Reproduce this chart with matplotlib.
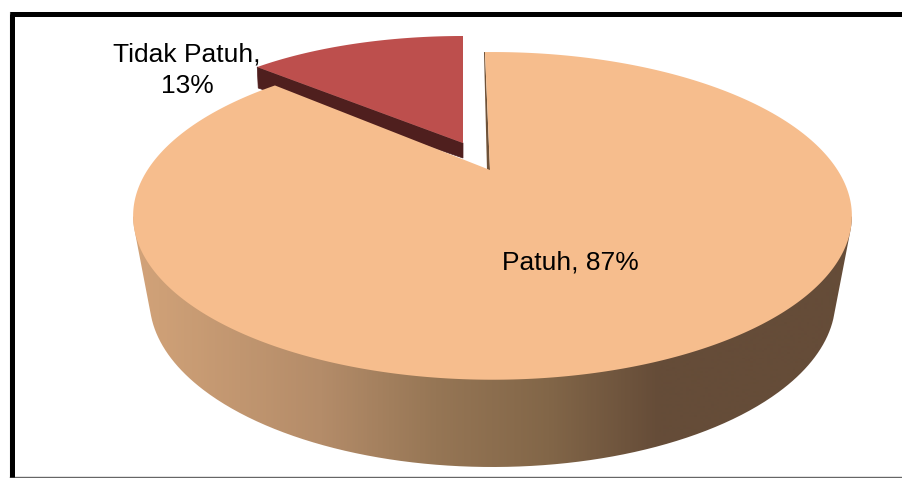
import numpy as np
import matplotlib
matplotlib.use("Agg")
import matplotlib.pyplot as plt
from matplotlib.colors import LinearSegmentedColormap
from matplotlib.patches import PathPatch, Polygon
from matplotlib.path import Path

# ---- data ----
categories = ["Patuh", "Tidak Patuh"]
percent_values = [87, 13]

# ---- style ----
plt.rcParams["font.family"] = ["Liberation Sans", "DejaVu Sans"]
W, H = 902, 478
TOP_PEACH = "#F6BD8D"
TOP_RED = "#BD4F4D"
WALL_RED = "#4F1F1E"
WALL_BROWN = "#6F5238"
SIDE_STOPS = [(0.00, "#D2A379"), (0.26, "#B48C69"), (0.42, "#967655"),
              (0.58, "#826648"), (0.733, "#654C38"), (1.00, "#654C38")]

fig = plt.figure(figsize=(W / 100, H / 100), dpi=100, facecolor="white")
ax = fig.add_axes([0, 0, 1, 1])
ax.set_xlim(0, W)
ax.set_ylim(H, 0)
ax.axis("off")


def project(theta_deg, cx, cy, a, b, k):
    """Perspective view of a unit circle; theta runs clockwise from 12 o'clock."""
    t = np.radians(theta_deg)
    w = 1 + k * np.cos(t)
    return np.column_stack([cx + b * np.sin(t) / w, cy - a * np.cos(t) / w])


def hull(points):
    pts = sorted(map(tuple, points))
    def half(seq):
        out = []
        for p in seq:
            while len(out) > 1 and ((out[-1][0] - out[-2][0]) * (p[1] - out[-2][1])
                                    - (out[-1][1] - out[-2][1]) * (p[0] - out[-2][0])) <= 0:
                out.pop()
            out.append(p)
        return out[:-1]
    return np.array(half(pts) + half(pts[::-1]))


MAIN = dict(cx=492.5, cy=170, a=151, b=345, k=0.28)
RED = dict(cx=463, cy=143, a=120.7, b=307, k=0.128)
main_sweep = percent_values[0] * 3.6
red_sweep = percent_values[1] * 3.6
START = -1.6

# side wall of the big slice: gradient clipped to the outline of the two discs
all_theta = np.linspace(0, 360, 721)
top_rim = project(all_theta, **MAIN)
t = np.radians(all_theta)
bottom_rim = np.column_stack([492.5 + 343 * np.cos(t), 300 + 167 * np.sin(t)])
outline = hull(np.vstack([top_rim, bottom_rim]))
outline = outline[outline[:, 1] >= 216]
side_clip = PathPatch(Path(np.vstack([outline, outline[:1]])), fc="none", ec="none",
                      transform=ax.transData)
ax.add_patch(side_clip)
cmap = LinearSegmentedColormap.from_list("side", SIDE_STOPS)
img = ax.imshow(np.linspace(0, 1, 720)[None, :], cmap=cmap, vmin=0, vmax=1,
                extent=(133, 852, H, 0), aspect="auto", zorder=1)
img.set_clip_path(side_clip)

# small slice, pulled out
red_arc = project(np.linspace(-red_sweep, 0, 120), **RED)
red_apex = np.array([RED["cx"], RED["cy"]])
left = red_arc[0]
ax.add_patch(Polygon([left, red_apex, red_apex + (0, 15), left + (1, 21)],
                     fc=WALL_RED, ec=WALL_RED, lw=0.5, zorder=2))
ax.add_patch(Polygon(np.vstack([red_arc, red_apex]), fc=TOP_RED, ec="none", zorder=3))

# big slice top
apex = np.array([490.0, 170.0])
main_arc = project(np.linspace(START, START + main_sweep, 720), **MAIN)
ax.add_patch(Polygon([main_arc[0], apex, apex + (-3, 0), main_arc[0] + (-1, 0)],
                     fc=WALL_BROWN, ec="none", zorder=4))
ax.add_patch(Polygon(np.vstack([main_arc, apex]), fc=TOP_PEACH, ec="none", zorder=5))

# labels
ax.text(570, 262.5, f"{categories[0]}, {percent_values[0]}%", fontsize=19,
        ha="center", va="center", color="black", zorder=6)
ax.text(187, 70.5, f"{categories[1]},\n{percent_values[1]}%", fontsize=19, linespacing=1.42,
        ha="center", va="center", color="black", zorder=6)

# frame
ax.plot([9.5, 9.5], [H, 12], color="#666666", lw=0.8, zorder=7)
ax.plot([9.5, W], [477.2, 477.2], color="#666666", lw=1.0, zorder=7)
ax.plot([12.3, 12.3], [H - 1, 13.5], color="black", lw=3.6, solid_capstyle="butt", zorder=8)
ax.plot([10, W], [13.5, 13.5], color="black", lw=3.6, solid_capstyle="butt", zorder=8)

fig.savefig("out.png", dpi=100)
